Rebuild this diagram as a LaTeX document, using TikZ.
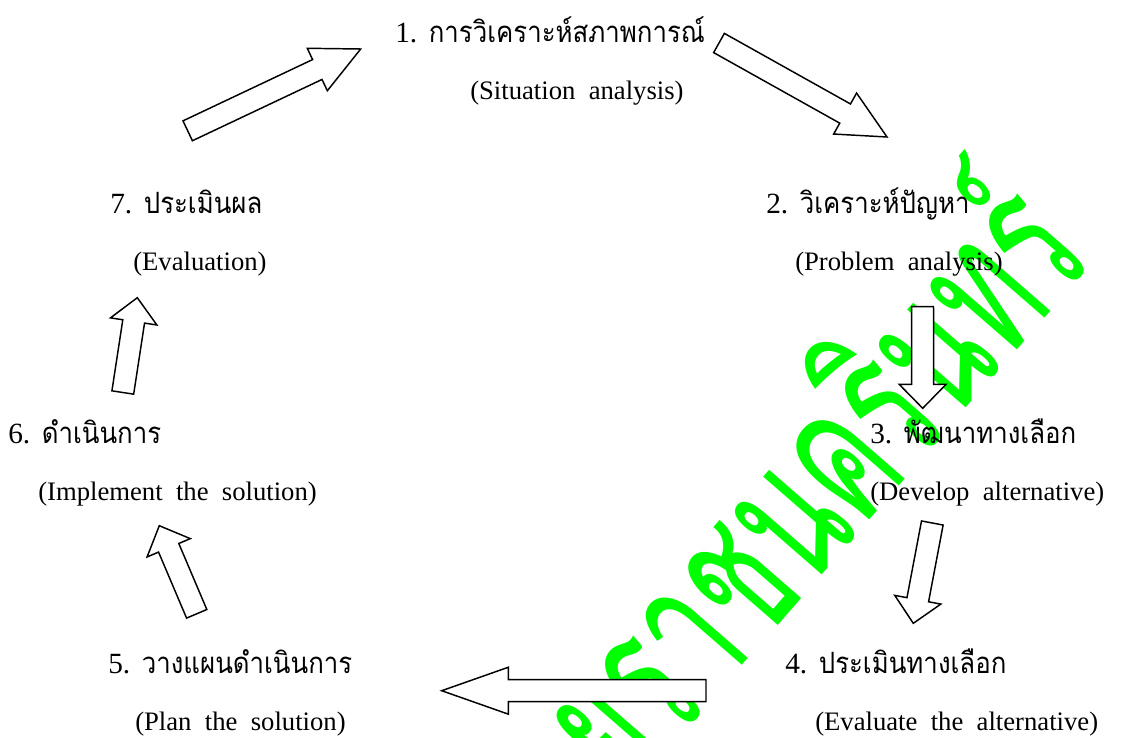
\documentclass[tikz,border=0pt]{standalone}
\usepackage{fontspec}
\setmainfont{Liberation Serif}
\newfontfamily\thaifont[Script=Thai,FakeStretch=0.88]{Loma}
\newfontfamily\wmfont[Script=Thai,FakeStretch=0.6]{Loma}
\usetikzlibrary{calc}
\definecolor{wmgreen}{RGB}{0,255,0}

\newcommand{\engfont}{\fontsize{20}{24}\selectfont\spaceskip 0.5em plus 0.1em\relax}
\newcommand{\num}[1]{{\rmfamily #1}}

% hollow block arrow from #1 (tail) to #2 (tip), head length #3
\newcommand{\fatarrow}[3]{%
  \draw[fat] ($(#1)!8.25pt!90:(#2)$)
    -- ($(#2)!#3!(#1)!8.25pt!-90:(#1)$)
    -- ($(#2)!#3!(#1)!17.6pt!-90:(#1)$)
    -- (#2)
    -- ($(#2)!#3!(#1)!17.6pt!90:(#1)$)
    -- ($(#2)!#3!(#1)!8.25pt!90:(#1)$)
    -- ($(#1)!8.25pt!-90:(#2)$) -- cycle;}

\begin{document}
\begin{tikzpicture}[x=0.75pt,y=-0.75pt,
  thai/.style={anchor=base west,inner sep=0pt,font=\thaifont\fontsize{22}{26}\selectfont},
  eng/.style={anchor=base west,inner sep=0pt,font=\engfont},
  fat/.style={draw=black,fill=white,line width=1.1pt,line join=miter},
  watermark/.style={inner sep=0pt,text=wmgreen,font=\wmfont\fontsize{146}{146}\selectfont}]

	\useasboundingbox (0,0) rectangle (1127,738);
	\clip (0,0) rectangle (1127,738);

	\node[watermark,rotate=49,anchor=base east] (wm) at (1097,258) {ยราชนครินทร์};

	\node[thai] (s1) at (395,43)  {\num{1.} การวิเคราะห์สภาพการณ์};
	\node[eng]  (e1) at (470,100) {(Situation analysis)};
	\node[thai] (s2) at (766,213) {\num{2.} วิเคราะห์ปัญหา};
	\node[eng]  (e2) at (795,270) {(Problem analysis)};
	\node[thai] (s3) at (870,443) {\num{3.} พัฒนาทางเลือก};
	\node[eng]  (e3) at (870,500) {(Develop alternative)};
	\node[thai] (s4) at (785,673) {\num{4.} ประเมินทางเลือก};
	\node[eng]  (e4) at (815,730) {(Evaluate the alternative)};
	\node[thai] (s5) at (108,673) {\num{5.} วางแผนดำเนินการ};
	\node[eng]  (e5) at (135,730) {(Plan the solution)};
	\node[thai] (s6) at (8,443)   {\num{6.} ดำเนินการ};
	\node[eng]  (e6) at (38,500)  {(Implement the solution)};
	\node[thai] (s7) at (110,213) {\num{7.} ประเมินผล};
	\node[eng]  (e7) at (133,270) {(Evaluation)};

	\coordinate (t12) at (719,43);    \coordinate (h12) at (887,137);
	\coordinate (t23) at (922.5,306.7); \coordinate (h23) at (922.7,408.3);
	\coordinate (t34) at (932.3,523); \coordinate (h34) at (913.3,623.3);
	\coordinate (t45) at (706,690.7); \coordinate (h45) at (441.7,690.7);
	\coordinate (t56) at (196.7,613.8); \coordinate (h56) at (159.3,525.7);
	\coordinate (t67) at (122.8,392.5); \coordinate (h67) at (137.3,297.7);
	\coordinate (t71) at (187.7,130.8); \coordinate (h71) at (360.7,49);

	\fatarrow{t12}{h12}{36pt}
	\fatarrow{t23}{h23}{18pt}
	\fatarrow{t34}{h34}{18pt}
	\fatarrow{t45}{h45}{50pt}
	\fatarrow{t56}{h56}{18pt}
	\fatarrow{t67}{h67}{18pt}
	\fatarrow{t71}{h71}{36pt}

\end{tikzpicture}
\end{document}
